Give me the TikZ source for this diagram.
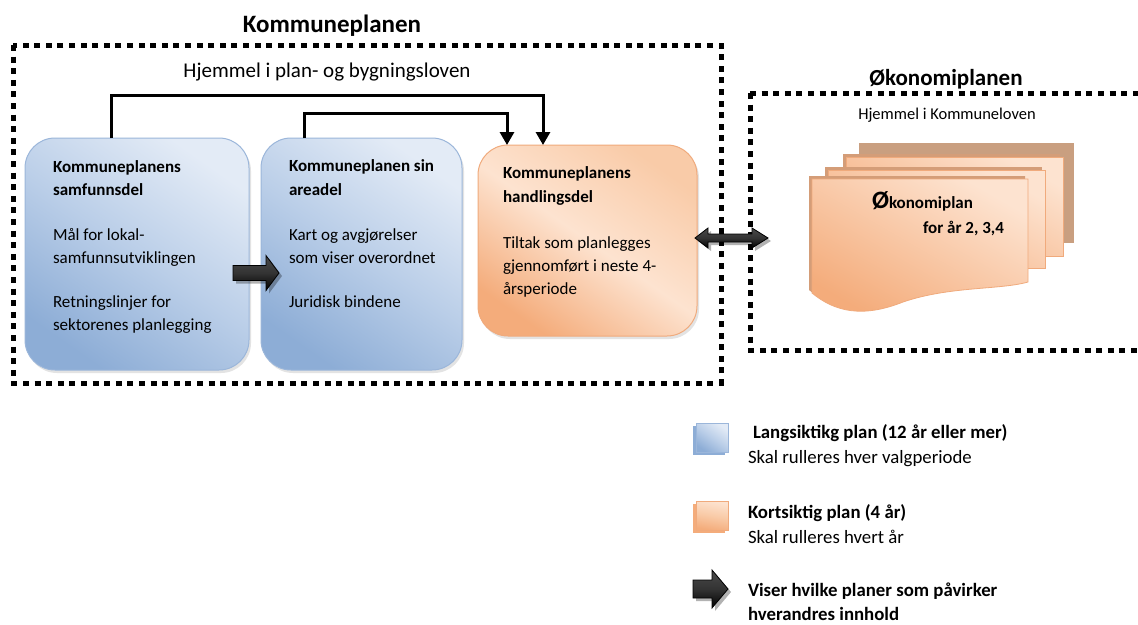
\documentclass[tikz,border=0pt]{standalone}
\usepackage{fontspec}
\setmainfont{Carlito}
\usetikzlibrary{shadows,calc,arrows.meta}
\definecolor{bluedark}{HTML}{8DADD6}
\definecolor{bluemid}{HTML}{BACEE8}
\definecolor{bluelight}{HTML}{E3EBF6}
\definecolor{bluedraw}{HTML}{9BB6DA}
\definecolor{orangedark}{HTML}{F4AC7B}
\definecolor{orangemid}{HTML}{F9CBA8}
\definecolor{orangelight}{HTML}{FDE3D0}
\definecolor{orangedraw}{HTML}{F0AA7C}
\definecolor{tanback}{HTML}{C99F80}
\definecolor{arrowgray}{HTML}{4A4A4A}
\begin{document}
\begin{tikzpicture}[x=1pt,y=-1pt,
  every node/.style={inner sep=0pt, outer sep=0pt},
  dotbox/.style={line width=5pt, dash pattern=on 6pt off 5.6pt},
  bluebox/.style={rounded corners=30pt, draw=bluedraw, line width=1pt,
    top color=bluelight, bottom color=bluedark, middle color=bluemid, shading angle=-35,
    drop shadow={opacity=0.22, shadow xshift=2pt, shadow yshift=-3pt}},
  orangebox/.style={rounded corners=30pt, draw=orangedraw, line width=1pt,
    top color=orangemid, bottom color=orangedark, middle color=orangelight, shading angle=-35,
    drop shadow={opacity=0.22, shadow xshift=2pt, shadow yshift=-3pt}},
  page/.style={draw=orangedraw, line width=0.8pt, top color=orangelight, bottom color=orangedark, shading angle=-30},
  pageedge/.style={fill=orangedark!85!black!90},
  fatarrow/.style={draw=black, line width=0.8pt, top color=arrowgray, bottom color=black, middle color=black!80},
  fatshadow/.style={fill=black, opacity=0.3},
  body/.style={font=\fontsize{17}{23}\selectfont, anchor=base west},
  headtxt/.style={font=\fontsize{17}{23}\selectfont\bfseries, anchor=base west},
  legbold/.style={font=\fontsize{18.8}{25}\selectfont\bfseries, anchor=base west},
  legtxt/.style={font=\fontsize{18.8}{25}\selectfont, anchor=base west},
  link/.style={line width=3pt, -{Triangle[length=13pt,width=14pt]}},
]
\clip (0,0) rectangle (1138,624);
\fill[white] (0,0) rectangle (1138,624);

% Kommuneplanen frame
\node[font=\fontsize{25}{30}\selectfont\bfseries, anchor=base] (kptitle) at (332,32) {Kommuneplanen};
\draw[dotbox] (13,45) rectangle (721,383);
\node[font=\fontsize{21}{25}\selectfont, anchor=base] (hjem) at (327,77) {Hjemmel i plan- og bygningsloven};

% boxes
\node[bluebox, minimum width=224pt, minimum height=232pt] (samf) at (137,254) {};
\node[bluebox, minimum width=201pt, minimum height=232pt] (area) at (361.5,254) {};
\node[orangebox, minimum width=219pt, minimum height=191pt] (hand) at (587.5,240.5) {};

% texts box 1
\node[headtxt] (t11) at (53,172) {Kommuneplanens};
\node[headtxt] (t12) at (53,195) {samfunnsdel};
\node[body] (t13) at (53,240) {Mål for lokal-};
\node[body] (t14) at (53,263) {samfunnsutviklingen};
\node[body] (t15) at (53,307) {Retningslinjer for};
\node[body] (t16) at (53,330) {sektorenes planlegging};
% texts box 2
\node[headtxt] (t21) at (289,171) {Kommuneplanen sin};
\node[headtxt] (t22) at (289,195) {areadel};
\node[body] (t23) at (289,240) {Kart og avgjørelser};
\node[body] (t24) at (289,263) {som viser overordnet};
\node[body] (t25) at (289,307) {Juridisk bindene};
% texts box 3
\node[headtxt] (t31) at (503,178) {Kommuneplanens};
\node[headtxt] (t32) at (503,202) {handlingsdel};
\node[body] (t33) at (503,248) {Tiltak som planlegges};
\node[body] (t34) at (503,271) {gjennomført i neste 4-};
\node[body] (t35) at (503,294) {årsperiode};

% connectors
\draw[link] ([xshift=86pt]samf.north west) -- ++(0,-43) -| ([xshift=65pt]hand.north west);
\draw[link] ([xshift=43pt]area.north west) -- ++(0,-25) -| ([xshift=29pt]hand.north west);

% fat arrow box1 -> box2
\fill[fatshadow] (236,268.5) -- (269,268.5) -- (269,258.5) -- (282,276) -- (269,293.5) -- (269,283.5) -- (236,283.5) -- cycle;
\draw[fatarrow] (233,265.5) -- (266,265.5) -- (266,255.5) -- (279,273) -- (266,290.5) -- (266,280.5) -- (233,280.5) -- cycle;

% Okonomiplanen frame
\node[font=\fontsize{23}{28}\selectfont\bfseries, anchor=base] (oktitle) at (946,85) {Økonomiplanen};
\draw[dotbox] (750,93) -- (1150,93) (750,93) -- (750,350) -- (1150,350);
\node[font=\fontsize{16.5}{20}\selectfont, anchor=base] (hjem2) at (947,119) {Hjemmel i Kommuneloven};

% document stack
\fill[tanback] (859,143) rectangle (1074,243);
\fill[pageedge] (843,154) rectangle (1060,252);
\draw[page] (846,157) rectangle (1063,256);
\fill[pageedge] (825,167) rectangle (1042,264);
\draw[page] (828,170) rectangle (1045,268);
\fill[pageedge] (809,176) -- (1025,176) -- (1025,279) .. controls (1000,287) and (950,283) .. (900,299) .. controls (860,315) and (832,309) .. (809,290) -- cycle;
\draw[page] (812,179) -- (1028,179) -- (1028,282) .. controls (1000,290) and (950,286) .. (903,302) .. controls (863,318) and (835,312) .. (812,293) -- cycle;
\node[anchor=base west, font=\bfseries] (okname) at (872,208) {{\fontsize{25}{28}\selectfont Ø}{\fontsize{17}{20}\selectfont konomiplan}};
\node[anchor=base west, font=\fontsize{17}{20}\selectfont\bfseries] (okyear) at (923,233) {for år 2, 3,4};

% double arrow hand <-> okonomi
\fill[fatshadow] (698,241) -- (711,231) -- (711,237) -- (755,237) -- (755,231) -- (771,241) -- (755,251) -- (755,245) -- (711,245) -- (711,251) -- cycle;
\draw[fatarrow] (695,238) -- (708,228) -- (708,234) -- (752,234) -- (752,228) -- (768,238) -- (752,248) -- (752,242) -- (708,242) -- (708,248) -- cycle;

% legend
\fill[bluedark] (693,426) rectangle (725,455);
\draw[draw=bluedraw, top color=bluelight, bottom color=bluedark, middle color=bluemid, shading angle=-35] (696,423) rectangle (728,452);
\node[legbold] (l1a) at (753,438) {Langsiktikg plan (12 år eller mer)};
\node[legtxt] (l1b) at (748,463) {Skal rulleres hver valgperiode};

\fill[orangedark] (693,504) rectangle (725,533);
\draw[draw=orangedraw, top color=orangelight, bottom color=orangedark, middle color=orangemid, shading angle=-10] (696,501) rectangle (728,530);
\node[legbold] (l2a) at (748,518) {Kortsiktig plan (4 år)};
\node[legtxt] (l2b) at (748,543) {Skal rulleres hvert år};

\fill[fatshadow] (696,583) -- (715,583) -- (715,573) -- (731,592) -- (715,611) -- (715,601) -- (696,601) -- cycle;
\draw[fatarrow] (693,580) -- (712,580) -- (712,570) -- (728,589) -- (712,608) -- (712,598) -- (693,598) -- cycle;
\node[legbold] (l3a) at (748,596) {Viser hvilke planer som påvirker};
\node[legbold] (l3b) at (748,620) {hverandres innhold};
\end{tikzpicture}
\end{document}
